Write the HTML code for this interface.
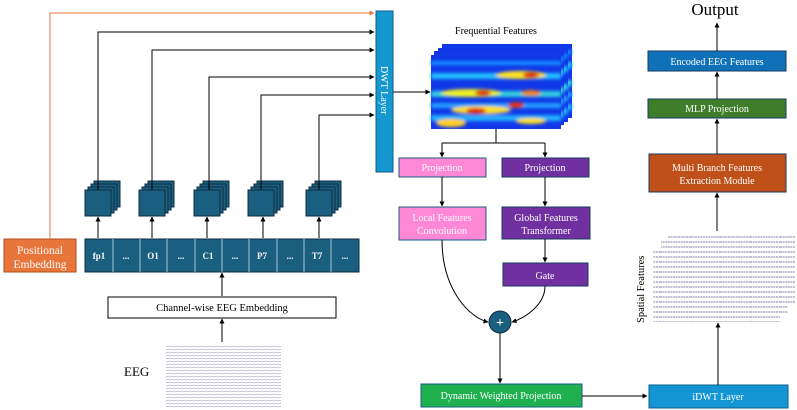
<!DOCTYPE html>
<html><head><meta charset="utf-8"><style>
html,body{margin:0;padding:0;background:#fff}
svg{display:block}
text{font-family:"Liberation Serif",serif}
</style></head><body>
<svg width="797" height="410" viewBox="0 0 797 410" xmlns="http://www.w3.org/2000/svg">
<defs>
<marker id="a" viewBox="0 0 10 10" refX="9" refY="5" markerWidth="5" markerHeight="5" orient="auto"><path d="M0,0L10,5L0,10z" fill="#000"/></marker>
<marker id="ao" viewBox="0 0 10 10" refX="9" refY="5" markerWidth="5" markerHeight="5" orient="auto"><path d="M0,0L10,5L0,10z" fill="#e8763a"/></marker>
<filter id="bl"><feGaussianBlur stdDeviation="1.5"/></filter>
<pattern id="eeg" width="40" height="3" patternUnits="userSpaceOnUse">
<path d="M0,1.5 q2,-1 4,0 t4,0 t4,0 t4,0 t4,0 t4,0 t4,0 t4,0 t4,0 t4,0" stroke="#6a6aa8" stroke-width="0.5" fill="none"/>
</pattern>
<pattern id="sp" width="30" height="5" patternUnits="userSpaceOnUse">
<path d="M0,2 h30" stroke="#55558f" stroke-width="0.7" stroke-dasharray="2 0.6"/>
</pattern>
<g id="hm">
<rect width="130" height="74" fill="#1038e8"/>
<g filter="url(#bl)">
<rect x="0" y="6" width="130" height="4" fill="#1890ff"/>
<rect x="0" y="18" width="130" height="6" fill="#20c0ff"/>
<rect x="0" y="36" width="130" height="6" fill="#30d0e0"/>
<rect x="0" y="48" width="130" height="5" fill="#20a0ff"/>
<rect x="0" y="60" width="130" height="6" fill="#20b0ff"/>
<ellipse cx="90" cy="20" rx="25" ry="4" fill="#ffe020"/>
<ellipse cx="100" cy="20" rx="8" ry="3" fill="#e02010"/>
<ellipse cx="40" cy="38" rx="30" ry="4" fill="#f0f020"/>
<ellipse cx="52" cy="38" rx="8" ry="3" fill="#e03010"/>
<ellipse cx="100" cy="38" rx="10" ry="3" fill="#f08020"/>
<ellipse cx="50" cy="55" rx="30" ry="4" fill="#ffe020"/>
<ellipse cx="45" cy="56" rx="10" ry="3" fill="#e02010"/>
<ellipse cx="85" cy="50" rx="8" ry="3" fill="#e03010"/>
<ellipse cx="20" cy="68" rx="15" ry="4" fill="#ffd020"/>
<ellipse cx="100" cy="66" rx="15" ry="3" fill="#ffe020"/>
</g>
</g>
<g id="st">
<rect x="9" y="-9" width="26" height="26" fill="#1a5e80" stroke="#0d2e40" stroke-width="1"/>
<rect x="6" y="-6" width="26" height="26" fill="#1a5e80" stroke="#0d2e40" stroke-width="1"/>
<rect x="3" y="-3" width="26" height="26" fill="#1a5e80" stroke="#0d2e40" stroke-width="1"/>
<rect x="0" y="0" width="26" height="26" fill="#1a5e80" stroke="#0d2e40" stroke-width="1"/>
</g>
</defs>

<rect x="376" y="11" width="17" height="161" fill="#1597cf" stroke="#0d5e88" stroke-width="1"/>
<text transform="translate(381,66) rotate(90)" font-size="10" fill="#fff">DWT Layer</text>

<path d="M50,238V13H374" stroke="#e8763a" stroke-width="1" fill="none" marker-end="url(#ao)"/>
<rect x="4" y="239" width="72" height="33" fill="#e8763a" stroke="#b04d18" stroke-width="1"/>
<text x="40" y="254" font-size="11.5" fill="#fff" text-anchor="middle">Positional</text>
<text x="40" y="268" font-size="11.5" fill="#fff" text-anchor="middle">Embedding</text>

<g stroke="#000" stroke-width="1" fill="none" marker-end="url(#a)">
<path d="M98,190V32H374"/>
<path d="M152,190V50H374"/>
<path d="M209,190V77H374"/>
<path d="M261,190V95H374"/>
<path d="M319,190V115H374"/>
</g>
<use href="#st" x="85" y="190"/>
<use href="#st" x="139" y="190"/>
<use href="#st" x="194" y="190"/>
<use href="#st" x="248" y="190"/>
<use href="#st" x="306" y="190"/>
<g stroke="#000" stroke-width="1">
<path d="M98,190V181M152,190V181M209,190V181M261,190V181M319,190V181"/>
</g>
<g stroke="#000" stroke-width="1" marker-end="url(#a)">
<path d="M98,238V217"/><path d="M152,238V217"/><path d="M207,238V217"/><path d="M263,238V217"/><path d="M319,238V217"/>
</g>
<rect x="85" y="239" width="274" height="33" fill="#1a5e80" stroke="#0d2e40" stroke-width="1"/>
<g stroke="#a9c4d4" stroke-width="1">
<path d="M113,239v33M140,239v33M167,239v33M195,239v33M222,239v33M249,239v33M277,239v33M304,239v33M331,239v33"/>
</g>
<g font-size="9" font-weight="bold" fill="#fff" text-anchor="middle">
<text x="99" y="259">fp1</text><text x="126" y="259">...</text><text x="153" y="259">O1</text><text x="181" y="259">...</text><text x="208" y="259">C1</text><text x="235" y="259">...</text><text x="262" y="259">P7</text><text x="290" y="259">...</text><text x="317" y="259">T7</text><text x="345" y="259">...</text>
</g>
<path d="M222,296V273" stroke="#000" marker-end="url(#a)"/>
<rect x="108" y="297" width="228" height="21" fill="#fff" stroke="#000" stroke-width="1"/>
<text x="222" y="311" font-size="10.5" text-anchor="middle">Channel-wise EEG Embedding</text>
<path d="M222,342V319" stroke="#000" marker-end="url(#a)"/>
<rect x="166" y="344" width="115" height="64" fill="url(#eeg)" opacity="0.8"/>
<text x="124" y="376" font-size="13">EEG</text>

<text x="496" y="34" font-size="10" text-anchor="middle">Frequential Features</text>
<use href="#hm" x="442" y="44"/>
<use href="#hm" x="438" y="48"/>
<use href="#hm" x="434" y="51"/>
<use href="#hm" x="431" y="55"/>
<path d="M393,92H430" stroke="#000" marker-end="url(#a)"/>
<path d="M496,129V143M442,143H545" stroke="#000" fill="none"/>
<path d="M442,143V157" stroke="#000" marker-end="url(#a)"/>
<path d="M545,143V157" stroke="#000" marker-end="url(#a)"/>

<rect x="399" y="158" width="87" height="19" fill="#ff88d6" stroke="#1a5e80" stroke-width="1"/>
<text x="442" y="171" font-size="10" fill="#fff" text-anchor="middle">Projection</text>
<rect x="502" y="158" width="87" height="19" fill="#7030a0" stroke="#1a3a60" stroke-width="1"/>
<text x="545" y="171" font-size="10" fill="#fff" text-anchor="middle">Projection</text>
<path d="M442,177V206" stroke="#000" marker-end="url(#a)"/>
<path d="M545,177V206" stroke="#000" marker-end="url(#a)"/>
<rect x="399" y="207" width="87" height="33" fill="#ff88d6" stroke="#1a5e80" stroke-width="1"/>
<text x="442" y="221" font-size="10" fill="#fff" text-anchor="middle">Local Features</text>
<text x="442" y="234" font-size="10" fill="#fff" text-anchor="middle">Convolution</text>
<rect x="502" y="207" width="88" height="32" fill="#7030a0" stroke="#1a3a60" stroke-width="1"/>
<text x="546" y="221" font-size="10" fill="#fff" text-anchor="middle">Global Features</text>
<text x="546" y="234" font-size="10" fill="#fff" text-anchor="middle">Transformer</text>
<path d="M545,239V262" stroke="#000" marker-end="url(#a)"/>
<rect x="503" y="263" width="85" height="23" fill="#7030a0" stroke="#1a3a60" stroke-width="1"/>
<text x="545" y="279" font-size="10" fill="#fff" text-anchor="middle">Gate</text>
<path d="M442,240C442,290 470,318 488,322" stroke="#000" fill="none" marker-end="url(#a)"/>
<path d="M545,286C545,305 525,318 512,322" stroke="#000" fill="none" marker-end="url(#a)"/>
<circle cx="500" cy="322" r="11" fill="#1a5e80" stroke="#0d2e40"/>
<text x="500" y="327" font-size="14" fill="#fff" text-anchor="middle" font-weight="bold">+</text>
<path d="M500,333V383" stroke="#000" marker-end="url(#a)"/>
<rect x="421" y="384" width="161" height="23" fill="#1fb050" stroke="#1a5e80" stroke-width="1"/>
<text x="501" y="399" font-size="10" fill="#fff" text-anchor="middle">Dynamic Weighted Projection</text>
<path d="M582,396H647" stroke="#000" marker-end="url(#a)"/>
<rect x="649" y="385" width="139" height="23" fill="#1596d4" stroke="#0d5e88" stroke-width="1"/>
<text x="718" y="400" font-size="10" fill="#fff" text-anchor="middle">iDWT Layer</text>
<path d="M718,385V323" stroke="#000" marker-end="url(#a)"/>

<rect x="668" y="233" width="127" height="72" fill="url(#sp)"/>
<rect x="661" y="240" width="127" height="74" fill="#fff"/>
<rect x="661" y="240" width="127" height="74" fill="url(#sp)"/>
<rect x="653" y="248" width="127" height="74" fill="#fff"/>
<rect x="653" y="248" width="127" height="74" fill="url(#sp)"/>
<text transform="translate(644,323) rotate(-90)" font-size="10.5">Spatial Features</text>
<path d="M717,231V193" stroke="#000" marker-end="url(#a)"/>
<rect x="649" y="154" width="137" height="38" fill="#c0501a" stroke="#1a3a60" stroke-width="1"/>
<text x="717" y="171" font-size="10" fill="#fff" text-anchor="middle">Multi Branch Features</text>
<text x="717" y="184" font-size="10" fill="#fff" text-anchor="middle">Extraction Module</text>
<path d="M717,154V119" stroke="#000" marker-end="url(#a)"/>
<rect x="648" y="99" width="138" height="19" fill="#3e7d2a" stroke="#1a3a60" stroke-width="1"/>
<text x="717" y="112" font-size="10" fill="#fff" text-anchor="middle">MLP Projection</text>
<path d="M717,99V72" stroke="#000" marker-end="url(#a)"/>
<rect x="648" y="51" width="138" height="20" fill="#0f72b8" stroke="#1a3a60" stroke-width="1"/>
<text x="717" y="65" font-size="10" fill="#fff" text-anchor="middle">Encoded EEG Features</text>
<path d="M717,51V23" stroke="#000" marker-end="url(#a)"/>
<text x="715" y="15" font-size="17" text-anchor="middle">Output</text>
</svg>
</body></html>
